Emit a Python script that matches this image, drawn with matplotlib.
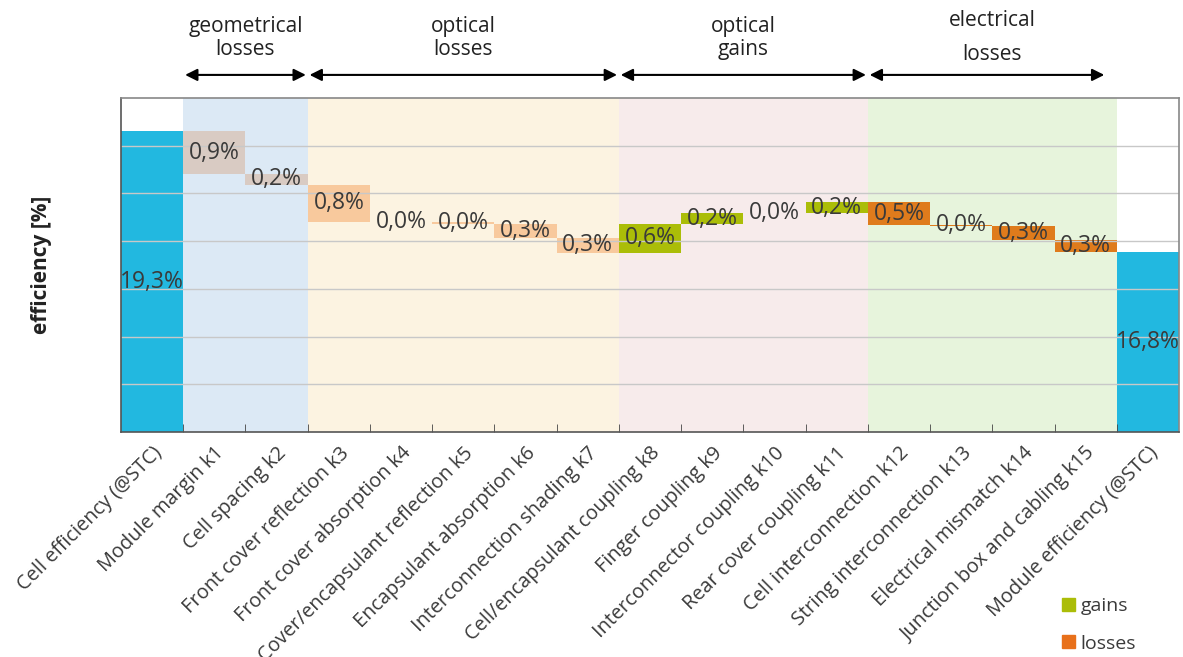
import matplotlib
matplotlib.use("Agg")
import matplotlib.pyplot as plt
from matplotlib.patches import Patch
from matplotlib.transforms import blended_transform_factory

plt.rcParams["font.family"] = ["Open Sans", "DejaVu Sans"]

CATEGORIES = [
    "Cell efficiency (@STC)", "Module margin k1", "Cell spacing k2",
    "Front cover reflection k3", "Front cover absorption k4",
    "Cover/encapsulant reflection k5", "Encapsulant absorption k6",
    "Interconnection shading k7", "Cell/encapsulant coupling k8",
    "Finger coupling k9", "Interconnector coupling k10",
    "Rear cover coupling k11", "Cell interconnection k12",
    "String interconnection k13", "Electrical mismatch k14",
    "Junction box and cabling k15", "Module efficiency (@STC)",
]
CELL_EFF = 19.3
MODULE_EFF = 16.77
START_LABEL = "19,3%"
END_LABEL = "16,8%"

# k1..k15 (absolute %)
STEP_DELTAS = [-0.89, -0.23, -0.78, -0.01, -0.03, -0.30, -0.30,
               0.60, 0.22, 0.01, 0.22, -0.47, -0.02, -0.29, -0.26]
STEP_LABELS = ["0,9%", "0,2%", "0,8%", "0,0%", "0,0%", "0,3%", "0,3%",
               "0,6%", "0,2%", "0,0%", "0,2%", "0,5%", "0,0%", "0,3%", "0,3%"]
STEP_GROUP = ["geo", "geo", "optl", "optl", "optl", "optl", "optl",
              "optg", "optg", "optg", "optg", "elec", "elec", "elec", "elec"]

GROUP_NAMES = {"geo": "geometrical\nlosses", "optl": "optical\nlosses",
               "optg": "optical\ngains", "elec": "electrical\nlosses"}
BAND_COLOURS = {"geo": "#dce9f5", "optl": "#fcf3e1",
                "optg": "#f7ebeb", "elec": "#e7f4dc"}
BAR_COLOURS = {"geo": "#d9cbc3", "optl": "#f8c99d",
               "optg": "#abbd08", "elec": "#df7b1c"}
TOTAL_COLOUR = "#22b8e0"
TEXT_COLOUR = "#3a3a3a"

fig = plt.figure(figsize=(11.83, 6.57), dpi=100)
ax = fig.add_axes([0.1023, 0.3425, 0.8943, 0.5084])
n = len(CATEGORIES)

# background bands + arrows per group
trans = blended_transform_factory(ax.transData, ax.transAxes)
for g in ["geo", "optl", "optg", "elec"]:
    idx = [i + 1 for i, s in enumerate(STEP_GROUP) if s == g]
    x0, x1 = idx[0] - 0.5, idx[-1] + 0.5
    ax.axvspan(x0, x1, color=BAND_COLOURS[g], zorder=0, lw=0)
    xa1 = x1 - 0.03 if g != "elec" else x1 - 0.2
    ax.annotate("", xy=(x0 + 0.03, 1.069), xytext=(xa1, 1.069),
                xycoords=trans, textcoords=trans, annotation_clip=False,
                arrowprops=dict(arrowstyle="<|-|>", color="black", lw=1.5,
                                mutation_scale=18, shrinkA=0, shrinkB=0))
    ls = 1.8 if g == "elec" else 1.15
    ax.text((x0 + x1) / 2, 1.18, GROUP_NAMES[g],
            transform=trans, ha="center", va="center", fontsize=15,
            color="#222222", linespacing=ls)

# totals
ax.bar(0, CELL_EFF, width=1.0, color=TOTAL_COLOUR, zorder=2)
ax.bar(n - 1, MODULE_EFF, width=1.0, color=TOTAL_COLOUR, zorder=2)
ax.text(0, (13 + CELL_EFF) / 2, START_LABEL, ha="center", va="center",
        fontsize=16.5, color=TEXT_COLOUR, zorder=3)
ax.text(n - 1, (13 + MODULE_EFF) / 2, END_LABEL, ha="center", va="center",
        fontsize=16.5, color=TEXT_COLOUR, zorder=3)

level = CELL_EFF
for i, (d, lab, g) in enumerate(zip(STEP_DELTAS, STEP_LABELS, STEP_GROUP)):
    x = i + 1
    lo = min(level, level + d)
    ax.bar(x, abs(d), bottom=lo, width=1.0, color=BAR_COLOURS[g], zorder=2)
    ax.text(x, lo + abs(d) / 2, lab, ha="center", va="center",
            fontsize=16.5, color=TEXT_COLOUR, zorder=3)
    level += d

ax.set_xlim(-0.5, n - 0.5)
ax.set_ylim(13, 20)
ax.set_yticks(range(14, 20))
ax.yaxis.grid(True, color="#c8c8c8", lw=1, zorder=1)
ax.set_axisbelow(False)
ax.tick_params(axis="y", length=0, labelleft=False)

ax.set_xticks(range(n))
ax.set_xticklabels(CATEGORIES, rotation=45, ha="right", va="top",
                   rotation_mode="anchor", fontsize=14.3, color=TEXT_COLOUR)
ax.set_xticks([i + 0.5 for i in range(n - 1)], minor=True)
ax.tick_params(axis="x", which="major", length=0, pad=8)
ax.tick_params(axis="x", which="minor", length=6, direction="in",
               color="#444444")
for side, sp in ax.spines.items():
    sp.set_color("#555555" if side in ("left", "bottom") else "#888888")
    sp.set_linewidth(1.2)
    sp.set_zorder(4)

ax.set_ylabel("efficiency [%]", fontsize=15, fontweight="bold",
              color="#222222", labelpad=50)

handles = [Patch(color=BAR_COLOURS["optg"]), Patch(color="#e8701a")]
fig.legend(handles, ["gains", "losses"], loc="lower right",
           bbox_to_anchor=(0.975, -0.02), frameon=False, fontsize=14,
           handlelength=0.65, handleheight=0.65, handletextpad=0.3,
           labelspacing=1.0, labelcolor=TEXT_COLOUR)

fig.savefig("out.png", dpi=100)
